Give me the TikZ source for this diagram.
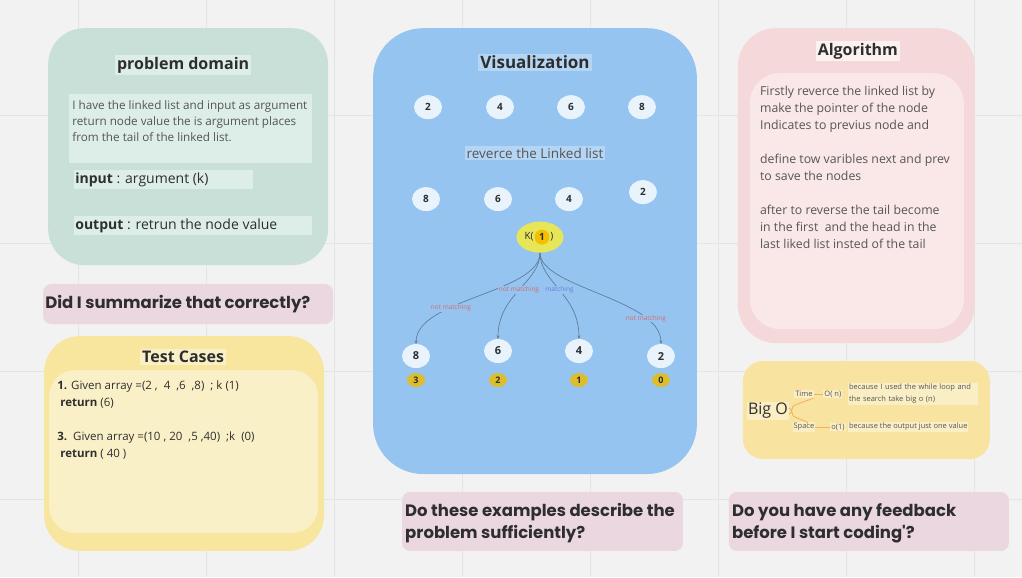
\documentclass[tikz,border=0pt]{standalone}
\usepackage{fontspec}
\setmainfont{Open Sans}
\newfontfamily\askfont{Poppins}
\usetikzlibrary{shapes.geometric,arrows.meta}
\definecolor{canvas}{HTML}{F2F2F2}
\definecolor{gridc}{HTML}{E4E4E4}
\definecolor{pdgreen}{HTML}{C9E0D8}
\definecolor{pdlight}{HTML}{DDEDE7}
\definecolor{askpink}{HTML}{EBD7E0}
\definecolor{tcyellow}{HTML}{F8E59E}
\definecolor{tclight}{HTML}{FAF0C8}
\definecolor{vizblue}{HTML}{96C4F0}
\definecolor{vizlight}{HTML}{B5D5F4}
\definecolor{vnodec}{HTML}{E9F3FC}
\definecolor{kyellow}{HTML}{E6E658}
\definecolor{korange}{HTML}{F5C000}
\definecolor{idxc}{HTML}{DCBE2C}
\definecolor{algpink}{HTML}{F5D9DA}
\definecolor{alglight}{HTML}{FAE8E8}
\definecolor{bigoc}{HTML}{F8E4A0}
\definecolor{bigolight}{HTML}{FAEEC5}
\definecolor{linkc}{HTML}{5F7E9C}
\definecolor{missc}{HTML}{D46A6A}
\definecolor{hitc}{HTML}{6A7CD8}
\definecolor{bracec}{HTML}{F0B060}
\definecolor{ink}{HTML}{2E2E2E}
\definecolor{softink}{HTML}{555555}
\tikzset{
	title/.style={fill=#1, inner sep=2pt, text=ink, font=\fontsize{16}{18}\selectfont\bfseries},
	vnode/.style={ellipse, fill=vnodec, minimum width=28pt, minimum height=24pt, inner sep=0pt, text=ink, font=\fontsize{10}{12}\selectfont\bfseries},
	idx/.style={ellipse, fill=idxc, minimum width=18pt, minimum height=14pt, inner sep=0pt, text=ink, font=\fontsize{9}{10}\selectfont\bfseries},
	link/.style={draw=linkc, line width=0.7pt, -{Stealth[length=3.5pt,width=3pt]}},
	miss/.style={fill=vizblue, inner sep=0.5pt, text=missc, font=\fontsize{6.5}{7}\selectfont},
	hit/.style={fill=vizblue, inner sep=0.5pt, text=hitc, font=\fontsize{6.5}{7}\selectfont},
	ask/.style={inner sep=0pt, text=ink, align=left, font=\askfont\bfseries\fontsize{16.5}{22}\selectfont},
	tiny/.style={fill=bigolight, inner sep=1pt, text=softink, align=left, font=\fontsize{7.5}{12}\selectfont},
	brace/.style={draw=bracec, line width=0.8pt}
}

\begin{document}
\begin{tikzpicture}[x=1pt,y=-1pt]
	\fill[canvas] (0,0) rectangle (1022,577);
	\foreach \gx in {78,206,...,974} \draw[gridc] (\gx,0) -- (\gx,577);
	\foreach \gy in {115,243,371,499} \draw[gridc] (0,\gy) -- (1022,\gy);
	\useasboundingbox (0,0) rectangle (1022,577);

	\fill[pdgreen, rounded corners=36pt] (48,28) rectangle (328,265);
	\node[title=pdlight] (pdtitle) at (183,65) {problem domain};
	\fill[pdlight] (69,94) rectangle (312,163);
	\node[anchor=north west, inner sep=0pt, text=softink, align=left, font=\fontsize{11.7}{16}\selectfont] (pdtext) at (72,100) {I have the linked list and input as argument\\return node value the is argument places\\from the tail of the linked list.};
	\fill[pdlight] (74,170) rectangle (253,189);
	\node[anchor=west, inner sep=0pt, text=ink, font=\fontsize{14}{16}\selectfont] (pdin) at (75,180) {\textbf{input} : argument (k)};
	\fill[pdlight] (74,216) rectangle (312,235);
	\node[anchor=west, inner sep=0pt, text=ink, font=\fontsize{14}{16}\selectfont] (pdout) at (75,226) {\textbf{output} : retrun the node value};

	\fill[askpink, rounded corners=8pt] (43,284) rectangle (333,324);
	\node[ask, anchor=west] (ask1) at (45,304) {Did I summarize that correctly?};

	\fill[tcyellow, rounded corners=36pt] (44,336) rectangle (324,551);
	\fill[tclight, rounded corners=26pt] (49,370) rectangle (318,533);
	\node[title=tclight] (tctitle) at (183,357) {Test Cases};
	\node[anchor=north west, inner sep=0pt, text=ink, align=left, font=\fontsize{11.5}{17}\selectfont] (tctext) at (57,381) {\textbf{1.} Given array =(2 ,\ \ 4\ \ ,6\ \ ,8)\ \ ; k (1)\\\ \textbf{return} (6)\\[17pt]\textbf{3.}\ \ Given array =(10 , 20\ \ ,5 ,40)\ \ ;k\ \ (0)\\\ \textbf{return} ( 40 )};

	\fill[vizblue, rounded corners=50pt] (373,28) rectangle (697,474);
	\node[title=vizlight, font=\fontsize{17}{19}\selectfont\bfseries] (viztitle) at (535,62) {Visualization};
	\foreach \v/\x in {2/428,4/500,6/571,8/642}
		\node[vnode] (top\v) at (\x,107) {\v};
	\node[fill=vizlight, inner sep=2pt, text=softink, font=\fontsize{13.5}{15}\selectfont] (revtext) at (535,153) {reverce the Linked list};
	\foreach \v/\x/\y in {8/426/199,6/498/199,4/569/199,2/643/192}
		\node[vnode] (rev\v) at (\x,\y) {\v};
	\node[ellipse, fill=kyellow, minimum width=47pt, minimum height=31pt, inner sep=0pt] (kk) at (540,237) {};
	\node[circle, fill=korange, minimum size=15pt, inner sep=0pt, text=ink, font=\fontsize{10}{12}\selectfont\bfseries] (kone) at (542,237) {1};
	\node[anchor=east, inner sep=0.5pt, text=ink, font=\fontsize{10}{12}\selectfont] (kleft) at (kone.west) {K(};
	\node[anchor=west, inner sep=0.5pt, text=ink, font=\fontsize{10}{12}\selectfont] (kright) at (kone.east) {)};
	\foreach \v/\x/\y/\i in {8/416/356/3,6/498/351/2,4/579/351/1,2/661/356/0}{
		\node[vnode, font=\fontsize{11}{12}\selectfont\bfseries] (hit\v) at (\x,\y) {\v};
		\node[idx] (idx\i) at (\x,380) {\i};
	}
	\draw[link] (kk.south) .. controls +(0,40) and +(0,-45) .. node[miss, pos=0.65] {not matching} (hit8.north);
	\draw[link] (kk.south) .. controls +(0,30) and +(0,-45) .. node[miss, pos=0.5] {not matching} (hit6.north);
	\draw[link] (kk.south) .. controls +(0,30) and +(0,-45) .. node[hit, pos=0.5] {matching} (hit4.north);
	\draw[link] (kk.south) .. controls +(0,35) and +(0,-45) .. node[miss, pos=0.78] {not matching} (hit2.north);

	\fill[algpink, rounded corners=38pt] (738,28) rectangle (975,343);
	\fill[alglight, rounded corners=30pt] (750,73) rectangle (964,329);
	\node[title=alglight!60!white] (algtitle) at (858,51) {Algorithm};
	\node[anchor=north west, inner sep=0pt, text=softink, align=left, font=\fontsize{12.3}{17}\selectfont] (algtext) at (760,86) {Firstly reverce the linked list by\\make the pointer of the node\\Indicates to previus node and\\[17pt]define tow varibles next and prev\\to save the nodes\\[17pt]after to reverse the tail become\\in the first\ \ and the head in the\\last liked list insted of the tail};

	\fill[bigoc, rounded corners=20pt] (743,361) rectangle (990,459);
	\node[fill=bigolight, inner sep=1pt, text=ink, font=\fontsize{16}{18}\selectfont] (bigo) at (768,411) {Big O};
	\node[tiny] (time) at (804,394) {Time};
	\node[tiny] (on) at (833,394) {O( n)};
	\node[tiny, anchor=west, text width=128pt] (whytime) at (848,394) {because I used the while loop and\\the search take big o (n)};
	\node[tiny] (space) at (804,427) {Space};
	\node[tiny] (oone) at (838,427) {o(1)};
	\node[tiny, anchor=west] (whyspace) at (848,427) {because the output just one value};
	\draw[brace] ([yshift=-3pt]bigo.east) .. controls +(4,0) and +(-4,0) .. ++(6,-9) -- (time.south east);
	\draw[brace] ([yshift=3pt]bigo.east) .. controls +(4,0) and +(-4,0) .. ++(6,9) -- ([xshift=-8pt]space.north east) -- ++(0,2);
	\draw[brace] (time.east) -- (on.west);
	\draw[brace] (space.east) -- (oone.west);

	\fill[askpink, rounded corners=8pt] (402,492) rectangle (683,551);
	\node[ask, anchor=north west] (ask2) at (405,503) {Do these examples describe the\\problem sufficiently?};
	\fill[askpink, rounded corners=8pt] (729,492) rectangle (1009,551);
	\node[ask, anchor=north west] (ask3) at (732,503) {Do you have any feedback\\before I start coding'?};
\end{tikzpicture}
\end{document}
